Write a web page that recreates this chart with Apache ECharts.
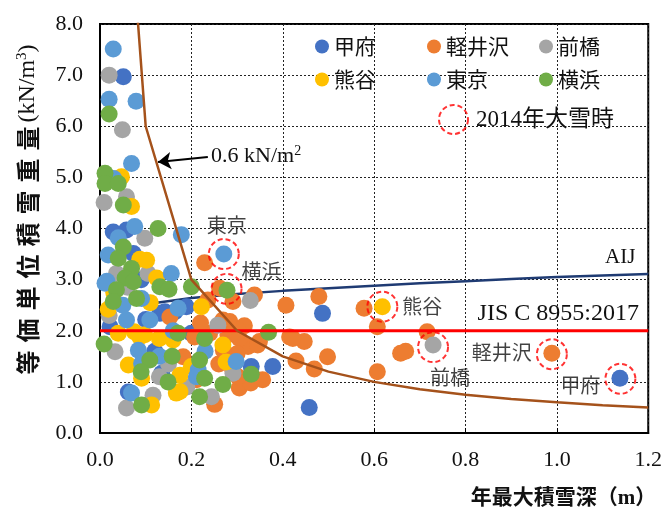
<!DOCTYPE html>
<html>
<head>
<meta charset="utf-8">
<script src="https://cdn.jsdelivr.net/npm/echarts@6/dist/echarts.min.js"></script>
<style>
  html, body { margin: 0; padding: 0; background: #fff; }
  #chart { width: 665px; height: 509px; }
</style>
</head>
<body>
<div id="chart"></div>
<script>
// Snow observations per city: [annual max snow depth (m), equivalent unit snow weight (kN/m3)]
const kofu = [
  [0.051,6.97],[0.029,3.93],[0.058,3.97],[0.073,3.51],[0.022,2.08],[0.131,2.34],[0.142,2.37],
  [0.164,2.37],[0.189,2.47],[0.100,2.22],[0.487,2.34],[0.378,1.30],[0.331,1.30],[0.062,0.80],
  [0.135,1.17],[0.458,0.50],[1.138,1.07],[0.120,1.60],[0.200,1.95],[0.090,3.00]
];
const karuizawa = [
  [0.229,3.33],[0.262,2.83],[0.338,2.70],[0.236,2.60],[0.291,2.57],[0.407,2.50],[0.479,2.67],
  [0.578,2.44],[0.607,2.08],[0.716,1.98],[0.658,1.56],[0.669,1.60],[0.269,2.21],[0.284,2.18],
  [0.316,2.10],[0.302,2.01],[0.207,1.88],[0.153,2.27],[0.415,1.88],[0.447,1.79],[0.422,1.85],
  [0.349,1.79],[0.324,1.69],[0.345,1.72],[0.429,1.41],[0.498,1.49],[0.469,1.25],[0.607,1.20],
  [0.356,1.04],[0.305,0.88],[0.251,0.56],[0.182,1.49],[0.989,1.56],[0.280,1.92],[0.240,1.95],
  [0.305,1.85],[0.300,1.55],[0.260,1.35],[0.290,1.25],[0.330,0.98],[0.302,1.10],[0.270,1.62],
  [0.220,2.15],[0.211,1.04]
];
const maebashi = [
  [0.020,7.00],[0.049,5.93],[0.058,4.62],[0.009,4.51],[0.098,3.81],[0.105,3.12],[0.036,3.12],
  [0.329,2.59],[0.258,2.11],[0.291,1.17],[0.244,0.71],[0.729,1.72],[0.033,1.59],[0.116,0.74],
  [0.058,0.49],[0.060,2.85],[0.130,1.10],[0.150,1.35],[0.020,2.30],[0.190,0.90]
];
const kumagaya = [
  [0.047,5.01],[0.040,4.98],[0.069,4.43],[0.102,3.38],[0.087,3.40],[0.124,3.03],[0.018,2.42],
  [0.222,2.47],[0.040,1.95],[0.087,1.88],[0.098,1.92],[0.075,1.98],[0.269,1.72],[0.062,1.33],
  [0.091,1.07],[0.175,1.13],[0.167,0.78],[0.113,0.55],[0.276,1.39],[0.618,2.47],[0.175,0.81],
  [0.130,1.85],[0.030,2.75],[0.200,1.30],[0.160,1.82],[0.110,2.55]
];
const tokyo = [
  [0.029,7.51],[0.020,6.53],[0.079,6.49],[0.069,5.27],[0.030,4.98],[0.076,4.04],[0.040,3.82],
  [0.178,3.88],[0.018,3.48],[0.156,3.12],[0.015,2.97],[0.011,2.93],[0.091,2.63],[0.171,2.44],
  [0.109,2.21],[0.058,2.21],[0.084,1.62],[0.091,1.36],[0.215,1.23],[0.069,0.78],[0.298,1.40],
  [0.271,3.50],[0.211,1.10],[0.160,2.00],[0.050,2.50],[0.130,1.50],[0.230,1.60]
];
const yokohama = [
  [0.020,6.24],[0.011,5.08],[0.011,4.88],[0.040,4.88],[0.051,4.46],[0.127,4.00],[0.051,3.64],
  [0.040,3.42],[0.069,3.22],[0.055,3.03],[0.073,2.96],[0.036,2.80],[0.131,2.86],[0.151,2.81],
  [0.200,2.86],[0.080,2.63],[0.029,2.57],[0.171,1.95],[0.009,1.74],[0.109,1.43],[0.158,1.50],
  [0.149,1.00],[0.218,0.71],[0.091,0.55],[0.229,1.85],[0.369,1.97],[0.218,1.43],[0.331,1.15],
  [0.229,1.07],[0.269,0.95],[0.278,2.79],[0.090,1.20]
];

// Heavy snowfall of 2014 (circled points)
const snowNames = ['東京', '横浜', '熊谷', '前橋', '軽井沢', '甲府'];
const snowX = [0.271, 0.277, 0.618, 0.729, 0.989, 1.139];
const snowY = [3.50, 2.82, 2.47, 1.68, 1.54, 1.06];

// 0.6 kN/m2 load curve (depth, unit weight)
const curveX = [0.05, 0.1, 0.2, 0.3, 0.4, 0.5, 0.6, 0.7, 0.8, 0.9, 1.0, 1.1, 1.2];
const curveY = [12.0, 6.0, 3.0, 2.0, 1.5, 1.2, 1.0, 0.857, 0.75, 0.667, 0.6, 0.545, 0.5];

// AIJ recommendation line
const aijX = [0.1, 0.2, 0.3, 0.4, 0.5, 0.6, 0.7, 0.8, 0.9, 1.0, 1.1, 1.2];
const aijY = [2.52, 2.64, 2.72, 2.78, 2.83, 2.88, 2.93, 2.97, 3.01, 3.05, 3.08, 3.11];

// JIS C 8955:2017 constant value
const jisX = [0, 1.2];
const jisY = [2.0, 2.0];

const cityNames = ['甲府', '軽井沢', '前橋', '熊谷', '東京', '横浜'];
const cityData = [kofu, karuizawa, maebashi, kumagaya, tokyo, yokohama];
const cityColors = ['#4472C4', '#ED7D31', '#A5A5A5', '#FFC000', '#5B9BD5', '#70AD47'];

const SERIF = "'Liberation Serif', 'Times New Roman', serif";
const CJK = "'Noto Sans CJK JP', sans-serif";
const MIXED = "'Liberation Serif', 'Noto Sans CJK JP', serif";

// label placement around each circled point (px)
const snowLabelOffsets = {
  '東京': [3, -29], '横浜': [35, -17], '熊谷': [40, 0],
  '前橋': [17, 30], '軽井沢': [-50, -2], '甲府': [-40, 7]
};

// y-axis title: CJK part set with wide character pitch, unit part in serif
const yTitleCjk = '等価単位積雪重量';
const yTitle = yTitleCjk.split('').map(ch => '{c|' + ch + '}').join('') + '{u|(kN/m}{sup|3}{u|)}';

const chart = echarts.init(document.getElementById('chart'), null, { renderer: 'canvas' });

const zip = (xs, ys) => xs.map((x, i) => [x, ys[i]]);

const scatterSeries = cityNames.map((name, i) => ({
  name: name,
  type: 'scatter',
  data: cityData[i],
  symbol: 'circle',
  symbolSize: 17,
  itemStyle: { color: cityColors[i], opacity: 1 },
  emphasis: { disabled: true },
  z: 3
}));

const legendText = { fontFamily: CJK, fontSize: 21, color: '#111', lineHeight: 23 };
function columnLegend(names, left) {
  return {
    data: names.map(n => ({ name: n, icon: 'circle' })),
    orient: 'vertical',
    left: left, top: 35,
    padding: 0,
    itemWidth: 14, itemHeight: 14, itemGap: 10,
    textStyle: legendText,
    selectedMode: false
  };
}

const option = {
  animation: false,
  backgroundColor: '#fff',
  grid: {
    left: 100, right: 15, top: 24, bottom: 76,
    show: true, borderColor: '#000', borderWidth: 2, backgroundColor: 'transparent'
  },
  legend: [
    columnLegend(['甲府', '熊谷'], 315),
    columnLegend(['軽井沢', '東京'], 427),
    columnLegend(['前橋', '横浜'], 539),
    {
      data: [{
        name: '2014年大雪時', icon: 'circle',
        itemStyle: { color: 'rgba(0,0,0,0)', borderColor: '#FF0000', borderWidth: 2, borderType: [5, 3] }
      }],
      left: 438, top: 104, padding: 0,
      itemWidth: 29, itemHeight: 29,
      textStyle: { fontFamily: MIXED, fontSize: 23, color: '#111', padding: [0, 0, 0, 3] },
      selectedMode: false
    }
  ],
  xAxis: {
    type: 'value', min: 0, max: 1.2, interval: 0.2,
    name: '年最大積雪深（m）',
    nameLocation: 'end', nameGap: 8,
    nameTextStyle: {
      fontFamily: MIXED, fontSize: 21, color: '#111', fontWeight: 'bold',
      align: 'right', verticalAlign: 'top', padding: [55, 0, 0, 0]
    },
    axisLine: { show: true, lineStyle: { color: '#000', width: 2 } },
    axisTick: { show: true, inside: true, length: 5, lineStyle: { color: '#000' } },
    axisLabel: {
      fontFamily: SERIF, fontSize: 22, color: '#111', margin: 16,
      formatter: v => v.toFixed(1)
    },
    splitLine: { show: true, lineStyle: { color: '#222', type: [2, 2], width: 1 } }
  },
  yAxis: {
    type: 'value', min: 0, max: 8, interval: 1,
    name: yTitle,
    nameLocation: 'middle', nameGap: 60, nameRotate: 90,
    nameTextStyle: {
      color: '#111',
      padding: [0, 0, 0, 34],
      rich: {
        c: { fontFamily: CJK, fontSize: 24, fontWeight: 'bold', width: 32, align: 'center', color: '#111' },
        u: { fontFamily: SERIF, fontSize: 24, color: '#111' },
        sup: { fontFamily: SERIF, fontSize: 15, color: '#111', padding: [0, 0, 10, 0] }
      }
    },
    axisLine: { show: true, lineStyle: { color: '#000', width: 2 } },
    axisTick: { show: false },
    axisLabel: {
      fontFamily: SERIF, fontSize: 22, color: '#111', margin: 17,
      formatter: v => v.toFixed(1)
    },
    splitLine: { show: true, lineStyle: { color: '#222', type: [2, 2], width: 1 } }
  },
  series: [
    {
      name: 'AIJ', type: 'line', data: zip(aijX, aijY),
      showSymbol: false, symbol: 'none',
      lineStyle: { color: '#1F3B73', width: 2.5 },
      emphasis: { disabled: true }, z: 2,
      markPoint: {
        symbolSize: 0, silent: true,
        data: [{ coord: [1.2, 3.11] }],
        label: {
          show: true, formatter: 'AIJ', offset: [-28, -17],
          fontFamily: SERIF, fontSize: 21, color: '#111'
        }
      }
    },
    ...scatterSeries,
    {
      name: 'JIS C 8955:2017', type: 'line', data: zip(jisX, jisY),
      showSymbol: false, symbol: 'none',
      lineStyle: { color: '#FF0000', width: 3 },
      emphasis: { disabled: true }, z: 4,
      markPoint: {
        symbolSize: 0, silent: true,
        data: [{ coord: [1.2, 2.0] }],
        label: {
          show: true, formatter: 'JIS C 8955:2017', offset: [-90, -17],
          fontFamily: SERIF, fontSize: 24, color: '#111'
        }
      }
    },
    {
      name: '0.6 kN/m2', type: 'line', data: zip(curveX, curveY),
      showSymbol: false, symbol: 'none', clip: true,
      lineStyle: { color: '#A5521B', width: 2.5 },
      emphasis: { disabled: true }, z: 4,
      markLine: {
        silent: true, symbol: ['none', 'arrow'], symbolSize: 13,
        lineStyle: { color: '#000', width: 2, type: 'solid' },
        itemStyle: { color: '#000' },
        label: { show: false },
        data: [[{ coord: [0.236, 5.40] }, { coord: [0.127, 5.30] }]]
      },
      markPoint: {
        symbolSize: 0, silent: true,
        data: [{ coord: [0.243, 5.42] }],
        label: {
          show: true, position: 'right', distance: 0,
          formatter: '0.6 kN/m{sup|2}',
          fontFamily: SERIF, fontSize: 22, color: '#111',
          rich: { sup: { fontFamily: SERIF, fontSize: 14, padding: [0, 0, 10, 0] } }
        }
      }
    },
    {
      name: '2014年大雪時', type: 'scatter',
      data: snowNames.map((n, i) => ({
        name: n, value: [snowX[i], snowY[i]],
        label: { offset: snowLabelOffsets[n] }
      })),
      symbol: 'circle', symbolSize: 30,
      itemStyle: { color: 'rgba(0,0,0,0)', borderColor: '#FF0000', borderWidth: 2, borderType: [5, 3] },
      label: {
        show: true, position: 'inside', formatter: p => p.name,
        fontFamily: CJK, fontSize: 20, color: '#111'
      },
      emphasis: { disabled: true }, z: 5
    }
  ]
};

chart.setOption(option);
</script>
</body>
</html>
